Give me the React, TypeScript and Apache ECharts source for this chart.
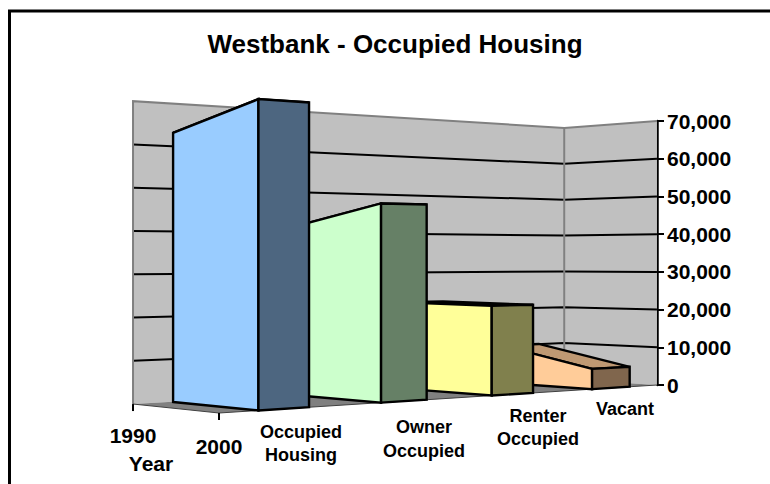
import React, { useEffect, useRef } from "react";
import * as echarts from "echarts";

const titleText = "Westbank - Occupied Housing";
const categories = ["Occupied\nHousing", "Owner\nOccupied", "Renter\nOccupied", "Vacant"];
const values1990 = [63100, 41400, 22300, 10100];
const values2000 = [68800, 46400, 22000, 5200];
const yearLabels = ["1990", "2000"];
const depthTitle = "Year";
const valueTicks = [0, 10000, 20000, 30000, 40000, 50000, 60000, 70000];
const sideColors = ["#99CCFF", "#CCFFCC", "#FFFF99", "#FFCC99"];
const frontColors = ["#4D6680", "#668066", "#80804D", "#80664D"];
const topColors = ["#7399BF", "#99BF99", "#BFBF73", "#BF9973"];

const FONT = "'Liberation Sans', Arial, sans-serif";
const grid = { left: 219, top: 121, width: 438, height: 264 };
const gridBottom = grid.top + grid.height;

// Projection of the 3-D plot box: u runs along the categories, v along the years, t up the value axis.
const P = { g: 0.22, h: 0.063, xu: 582.5, xv: -77.6, x0: 219, yu: 56.7, yv: 16.5, y0: 413, k: 322 };
function project(u: number, v: number, t: number): number[] {
  const w = 1 + P.g * u + P.h * v;
  return [(P.xu * u + P.xv * v + P.x0) / w, (P.yu * u + P.yv * v + P.y0 - t * P.k) / w];
}
const heightOf = (py: number) => (gridBottom - py) / grid.height;
const BAR_RATIO = 0.4;
const BAR_BACK = 0.98;

const poly = (points: number[][], fill: string, stroke: string, lineWidth: number) => ({
  type: "polygon",
  shape: { points },
  style: { fill, stroke, lineWidth, lineJoin: "miter" },
});
const line = (points: number[][], stroke: string, lineWidth: number) => ({
  type: "polyline",
  shape: { points },
  style: { fill: "none", stroke, lineWidth },
});

function renderWalls(_p: any, api: any) {
  const top = heightOf(api.coord([0, valueTicks[valueTicks.length - 1]])[1]);
  const children: any[] = [
    poly([project(0, 1, 0), project(1, 1, 0), project(1, 1, top), project(0, 1, top)], "#C0C0C0", "none", 0),
    poly([project(1, 1, 0), project(1, 0, 0), project(1, 0, top), project(1, 1, top)], "#C0C0C0", "none", 0),
    poly([project(0, 0, 0), project(1, 0, 0), project(1, 1, 0), project(0, 1, 0)], "#808080", "none", 0),
  ];
  valueTicks.slice(1, -1).forEach((v) => {
    const t = heightOf(api.coord([0, v])[1]);
    children.push(line([project(0, 1, t), project(1, 1, t), project(1, 0, t)], "#000000", 2));
  });
  children.push(line([project(0, 1, 0), project(0, 1, top), project(1, 1, top), project(1, 0, top)], "#808080", 2));
  children.push(line([project(1, 1, 0), project(1, 1, top)], "#808080", 2));
  children.push(line([project(0, 1, 0), project(0, 0, 0), project(1, 0, 0)], "#404040", 1));
  children.push(line([project(0, 1, 0), [project(0, 1, 0)[0], project(0, 1, 0)[1] + 7]], "#000000", 2));
  children.push(line([project(0, 0, 0), [project(0, 0, 0)[0], project(0, 0, 0)[1] + 7]], "#000000", 2));
  return { type: "group", children };
}

function renderBar(_p: any, api: any) {
  const i = api.value(0);
  const center = api.coord([i, 0]);
  const uc = (center[0] - grid.left) / grid.width;
  const half = (api.size([1, 0])[0] / grid.width) * BAR_RATIO * 0.5;
  const back = heightOf(api.coord([i, api.value(1)])[1]);
  const front = heightOf(api.coord([i, api.value(2)])[1]);
  const u0 = uc - half;
  const u1 = uc + half;
  const b = BAR_BACK;
  return {
    type: "group",
    children: [
      poly([project(u0, b, back), project(u1, b, back), project(u1, 0, front), project(u0, 0, front)], topColors[i], "#000", 2.4),
      poly([project(u0, b, 0), project(u0, 0, 0), project(u0, 0, front), project(u0, b, back)], sideColors[i], "#000", 2.4),
      poly([project(u0, 0, 0), project(u1, 0, 0), project(u1, 0, front), project(u0, 0, front)], frontColors[i], "#000", 2.4),
    ],
  };
}

const labelPlaces = [
  { x: 301, lines: [432, 455] },
  { x: 424, lines: [427, 451] },
  { x: 538, lines: [416, 439] },
  { x: 625, lines: [409] },
];
const text = (x: number, y: number, t: string, size: number) => ({
  type: "text",
  x,
  y,
  style: { text: t, fill: "#000", font: `bold ${size}px ${FONT}`, textAlign: "center", textVerticalAlign: "middle" },
});

export default function App() {
  const ref = useRef<HTMLDivElement>(null);
  useEffect(() => {
    const chart = echarts.init(ref.current!, null, { renderer: "svg" });
    const graphics: any[] = [
      { type: "polyline", shape: { points: [[9.5, 484], [9.5, 11], [770, 11]] }, style: { fill: "none", stroke: "#000", lineWidth: 3 } },
      text(133, 435, yearLabels[0], 21),
      text(219, 446, yearLabels[1], 21),
      text(151, 463, depthTitle, 21),
    ];
    categories.forEach((c, i) => {
      c.split("\n").forEach((s, j) => graphics.push(text(labelPlaces[i].x, labelPlaces[i].lines[j], s, 18)));
    });
    chart.setOption({
      animation: false,
      backgroundColor: "#FFFFFF",
      title: {
        text: titleText,
        left: 390,
        top: 26,
        textAlign: "center",
        textStyle: { fontFamily: FONT, fontWeight: "bold", fontSize: 26, color: "#000" },
      },
      grid: { ...grid },
      xAxis: { type: "category", data: categories, show: false },
      yAxis: {
        type: "value",
        position: "right",
        min: 0,
        max: 70000,
        interval: 10000,
        splitLine: { show: false },
        axisLine: { show: true, lineStyle: { color: "#000", width: 2.5 } },
        axisTick: { show: true, length: 7, lineStyle: { color: "#000", width: 2 } },
        axisLabel: {
          margin: 10,
          color: "#000",
          fontFamily: FONT,
          fontWeight: "bold",
          fontSize: 21,
          formatter: (v: number) => v.toLocaleString("en-US"),
        },
      },
      graphic: graphics,
      series: [
        { type: "custom", name: "walls", clip: false, z: 1, silent: true, data: [[0, 0]], renderItem: renderWalls },
        {
          type: "custom",
          name: "bars",
          clip: false,
          z: 2,
          silent: true,
          encode: { x: 0, y: [1, 2] },
          data: categories.map((_, i) => [i, values1990[i], values2000[i]]).reverse(),
          renderItem: renderBar,
        },
      ],
    });
    return () => chart.dispose();
  }, []);
  return <div ref={ref} style={{ position: "fixed", left: 0, top: 0, width: 770, height: 484 }} />;
}
